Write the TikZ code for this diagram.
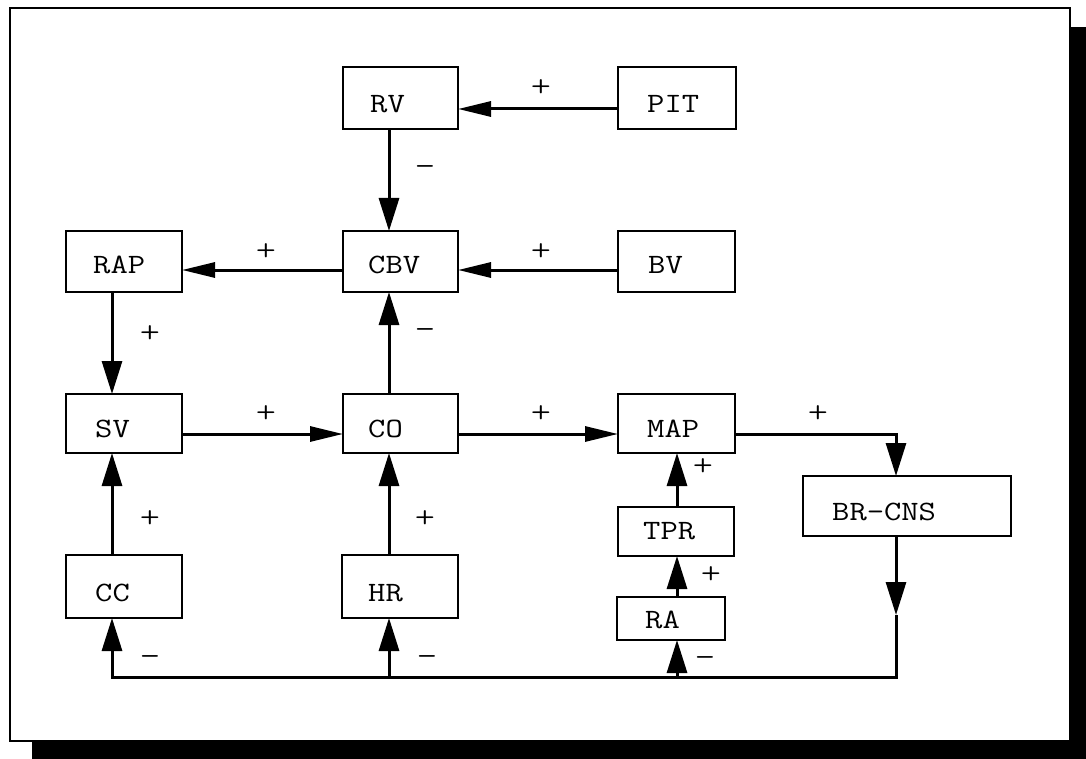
\documentclass[tikz,border=0pt]{standalone}
\usepackage{fontspec}
\newfontfamily\diagfont{Latin Modern Mono}[FakeStretch=1.2]
\newfontfamily\signfont{Latin Modern Mono Light}[FakeStretch=1.2]
\usetikzlibrary{arrows.meta,calc}
\begin{document}
\begin{tikzpicture}[x=1pt,y=-1pt,
  box/.style={draw,line width=2.6pt,fill=white,anchor=north west,inner sep=0pt,outer sep=0pt},
  txt/.style={anchor=base west,inner sep=0pt,font=\diagfont\fontsize{28}{30}\selectfont},
  sign/.style={inner sep=0pt,font=\signfont\fontsize{32}{34}\selectfont},
  minus/.style={inner sep=0pt,font=\signfont\fontsize{33}{34}\selectfont},
  link/.style={line width=3pt},
  varr/.style={link,-{Triangle[length=33pt,width=20pt]}},
  harr/.style={link,-{Triangle[length=33pt,width=15pt]}},
]
\useasboundingbox (0,0) rectangle (1086,759);

% page frame with its drop shadow
\fill[black] (32,27) rectangle (1086,759);
\draw[line width=2.5pt,fill=white] (10,8) rectangle (1070,741);

% guide lines for the connectors
\coordinate (colA) at (112,0);
\coordinate (colB) at (389,0);
\coordinate (colC) at (677,0);
\coordinate (colD) at (896,0);
\coordinate (rowA) at (0,109);
\coordinate (rowB) at (0,270);
\coordinate (rowC) at (0,434);
\coordinate (mid)  at (0,615);
\coordinate (bus)  at (0,677);

% boxes
\node[box,minimum width=115pt,minimum height=62pt] (rv)  at (343,67) {};
\node[box,minimum width=118pt,minimum height=62pt] (pit) at (618,67) {};
\node[box,minimum width=116pt,minimum height=61pt] (rap) at (66,231) {};
\node[box,minimum width=115pt,minimum height=61pt] (cbv) at (343,231) {};
\node[box,minimum width=117pt,minimum height=61pt] (bv)  at (618,231) {};
\node[box,minimum width=116pt,minimum height=59pt] (sv)  at (66,394) {};
\node[box,minimum width=115pt,minimum height=59pt] (co)  at (343,394) {};
\node[box,minimum width=117pt,minimum height=59pt] (map) at (618,394) {};
\node[box,minimum width=208pt,minimum height=60pt] (br)  at (803,476) {};
\node[box,minimum width=116pt,minimum height=49pt] (tpr) at (618,507) {};
\node[box,minimum width=108pt,minimum height=43pt] (ra)  at (617,597) {};
\node[box,minimum width=116pt,minimum height=63pt] (cc)  at (66,555) {};
\node[box,minimum width=116pt,minimum height=63pt] (hr)  at (342,555) {};

% box captions
\node[txt] (rvT)  at (370,113) {RV};
\node[txt] (pitT) at (647,113) {PIT};
\node[txt] (rapT) at (93,273)  {RAP};
\node[txt] (cbvT) at (368,273) {CBV};
\node[txt] (bvT)  at (648,273) {BV};
\node[txt] (svT)  at (95,437)  {SV};
\node[txt] (coT)  at (368,437) {CO};
\node[txt] (mapT) at (647,437) {MAP};
\node[txt] (brT)  at (832,520) {BR-CNS};
\node[txt] (tprT) at (643,539) {TPR};
\node[txt] (raT)  at (645,628) {RA};
\node[txt] (ccT)  at (95,601)  {CC};
\node[txt] (hrT)  at (368,601) {HR};

% connectors
\draw[harr] (pit.west |- rowA) -- (rv.east |- rowA);
\draw[varr] (rv.south -| colB) -- (cbv.north -| colB);
\draw[harr] (cbv.west |- rowB) -- (rap.east |- rowB);
\draw[harr] (bv.west |- rowB) -- (cbv.east |- rowB);
\draw[varr] (rap.south -| colA) -- (sv.north -| colA);
\draw[varr] (co.north -| colB) -- (cbv.south -| colB);
\draw[harr] (sv.east |- rowC) -- (co.west |- rowC);
\draw[harr] (co.east |- rowC) -- (map.west |- rowC);
\draw[varr] (map.east |- rowC) -- (colD |- rowC) -- (br.north -| colD);
\draw[varr] (br.south -| colD) -- (colD |- mid);
\draw[varr] (colD |- mid) -- (colD |- bus) -- (colA |- bus) -- (cc.south -| colA);
\draw[varr] (colB |- bus) -- (hr.south -| colB);
\draw[varr] (colC |- bus) -- (ra.south -| colC);
\draw[varr] (cc.north -| colA) -- (sv.south -| colA);
\draw[varr] (hr.north -| colB) -- (co.south -| colB);
\draw[varr] (ra.north -| colC) -- (tpr.south -| colC);
\draw[varr] (tpr.north -| colC) -- (map.south -| colC);

% signs of the influences
\node[sign]  (s1)  at (541,88)  {+};
\node[minus] (s2)  at (425,171) {–};
\node[sign]  (s3)  at (266,252) {+};
\node[sign]  (s4)  at (541,252) {+};
\node[sign]  (s5)  at (150,334) {+};
\node[minus] (s6)  at (425,334) {–};
\node[sign]  (s7)  at (266,414) {+};
\node[sign]  (s8)  at (541,414) {+};
\node[sign]  (s9)  at (818,414) {+};
\node[sign]  (s10) at (703,467) {+};
\node[sign]  (s11) at (711,575) {+};
\node[minus] (s12) at (705,662) {–};
\node[sign]  (s13) at (150,519) {+};
\node[sign]  (s14) at (425,519) {+};
\node[minus] (s15) at (150,661) {–};
\node[minus] (s16) at (427,661) {–};
\end{tikzpicture}
\end{document}
